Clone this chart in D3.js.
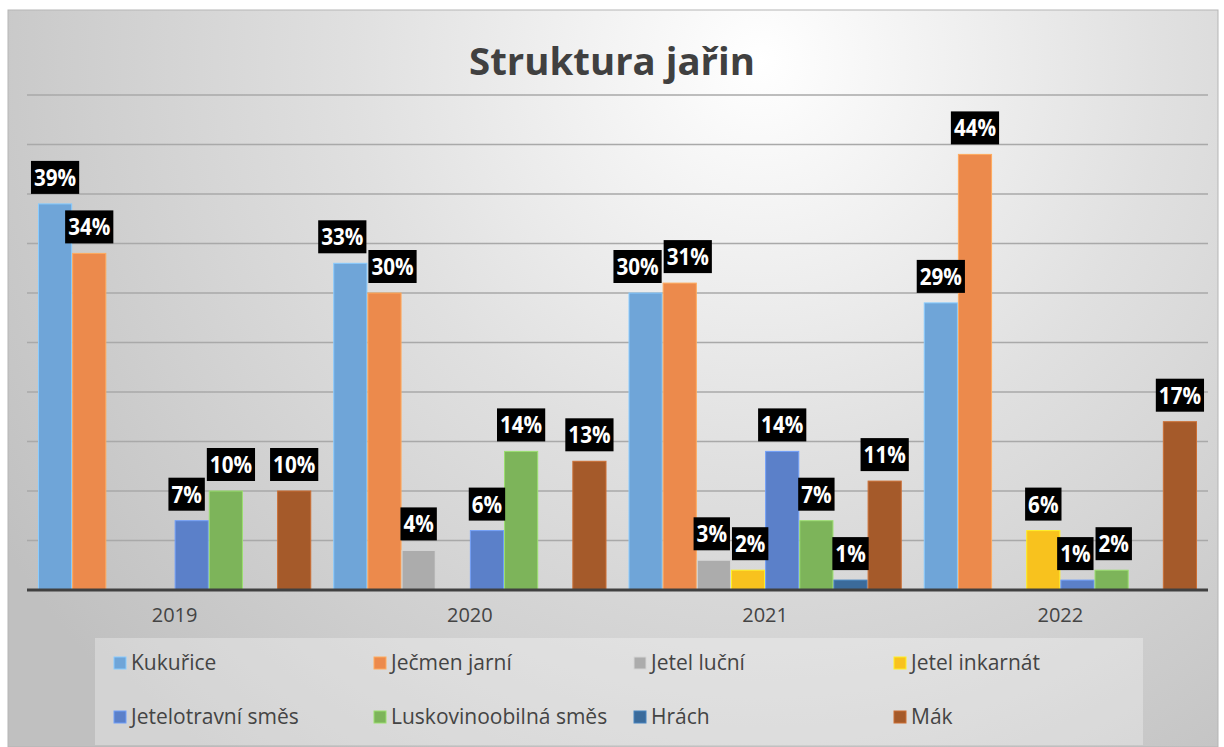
<!DOCTYPE html>
<html>
<head>
<meta charset="utf-8">
<script src="https://cdn.jsdelivr.net/npm/d3@7"></script>
<style>
  html, body { margin: 0; padding: 0; background: #fff; }
  svg { display: block; font-family: "Open Sans", sans-serif; }
</style>
</head>
<body>
<div id="chart"></div>
<script>
const years = ['2019', '2020', '2021', '2022'];
const seriesNames = ['Kukuřice', 'Ječmen jarní', 'Jetel luční', 'Jetel inkarnát',
  'Jetelotravní směs', 'Luskovinoobilná směs', 'Hrách', 'Mák'];
const kukurice = [39, 33, 30, 29];
const jecmen = [34, 30, 31, 44];
const jetelLucni = [null, 4, 3, null];
const jetelInkarnat = [null, null, 2, 6];
const jetelotravni = [7, 6, 14, 1];
const luskovinoobilna = [10, 14, 7, 2];
const hrach = [null, null, 1, null];
const mak = [10, 13, 11, 17];
const seriesValues = [kukurice, jecmen, jetelLucni, jetelInkarnat, jetelotravni, luskovinoobilna, hrach, mak];
const colors = ['#6fa5d8', '#ec8a4c', '#acacac', '#f8c21e', '#5b80c9', '#7db45a', '#3b6b9b', '#a55a2a'];
const yTicks = [0, 5, 10, 15, 20, 25, 30, 35, 40, 45, 50];

const W = 1224, H = 747;
const svg = d3.select('#chart').append('svg').attr('width', W).attr('height', H);

const defs = svg.append('defs');
const grad = defs.append('radialGradient').attr('id', 'bg')
  .attr('gradientUnits', 'userSpaceOnUse')
  .attr('cx', 760).attr('cy', 60).attr('r', 900);
grad.append('stop').attr('offset', '0%').attr('stop-color', '#ffffff');
grad.append('stop').attr('offset', '45%').attr('stop-color', '#e0e0e0');
grad.append('stop').attr('offset', '100%').attr('stop-color', '#c0c0c0');

// chart frame
svg.append('rect').attr('x', 8).attr('y', 10).attr('width', 1210).attr('height', 737)
  .attr('fill', 'url(#bg)').attr('stroke', '#b5b5b5').attr('stroke-width', 1);

svg.append('text').attr('x', 612).attr('y', 75).attr('text-anchor', 'middle')
  .attr('font-size', 38).attr('font-weight', 'bold').attr('fill', '#404040')
  .attr('textLength', 286).attr('lengthAdjust', 'spacingAndGlyphs')
  .text('Struktura jařin');

const plotLeft = 27, plotRight = 1208;
const y = d3.scaleLinear().domain([0, 50]).range([590, 95]);
const x0 = d3.scaleBand().domain(years).range([plotLeft, plotRight]).padding(0);
const inner = 11;
const x1 = d3.scaleBand().domain(d3.range(seriesNames.length))
  .range([inner, x0.bandwidth() - inner]).padding(0);

// gridlines
svg.append('g').selectAll('line').data(yTicks.slice(1)).enter().append('line')
  .attr('x1', plotLeft).attr('x2', plotRight)
  .attr('y1', d => y(d)).attr('y2', d => y(d))
  .attr('stroke', '#a9a9a9').attr('stroke-width', 1.6);

// bars
const groups = svg.append('g').selectAll('g').data(years).enter().append('g')
  .attr('transform', d => `translate(${x0(d)},0)`);

const cells = (yi) => seriesValues.map((vals, si) => ({ si, v: vals[yi] })).filter(d => d.v != null);
const boxH = 33, gap = 10;

groups.each(function(yr, yi) {
  const g = d3.select(this);
  const data = cells(yi);
  g.selectAll('rect.bar').data(data).enter().append('rect').attr('class', 'bar')
    .attr('x', d => x1(d.si) + 0.5).attr('width', x1.bandwidth() - 1)
    .attr('y', d => y(d.v)).attr('height', d => y(0) - y(d.v))
    .attr('fill', d => colors[d.si])
    .attr('stroke', d => d3.color(colors[d.si]).brighter(0.6)).attr('stroke-width', 1);

  const lab = g.selectAll('g.lab').data(data).enter().append('g').attr('class', 'lab');
  lab.append('text').attr('text-anchor', 'middle').attr('y', -8)
    .attr('font-size', 24).attr('font-weight', 'bold').attr('fill', '#fff')
    .text(d => d.v + '%')
    .each(function(d) {
      const w = this.getComputedTextLength() * 0.86;
      d3.select(this).attr('textLength', w).attr('lengthAdjust', 'spacingAndGlyphs');
      d.bw = w + 6;
      d.cx = x1(d.si) + x1.bandwidth() / 2;
      d.bottom = y(d.v) - gap;
    });

  // nudge labels apart where boxes collide
  for (let pass = 0; pass < 4; pass++) {
    for (let i = 0; i < data.length - 1; i++) {
      const a = data[i], b = data[i + 1];
      const vOverlap = Math.abs(a.bottom - b.bottom) < boxH;
      const over = (a.cx + a.bw / 2 + 2) - (b.cx - b.bw / 2);
      if (vOverlap && over > 0) { a.cx -= over / 2; b.cx += over / 2; }
    }
  }

  lab.attr('transform', d => `translate(${d.cx},${d.bottom})`);
  lab.insert('rect', 'text')
    .attr('x', d => -d.bw / 2).attr('y', -boxH).attr('width', d => d.bw).attr('height', boxH)
    .attr('fill', '#000');
});

// baseline + axis labels
svg.append('line').attr('x1', plotLeft).attr('x2', plotRight)
  .attr('y1', y(0)).attr('y2', y(0)).attr('stroke', '#404040').attr('stroke-width', 3);

const xAxis = svg.append('g').attr('transform', `translate(0,${y(0)})`)
  .call(d3.axisBottom(x0).tickSize(0).tickPadding(18));
xAxis.select('.domain').remove();
xAxis.selectAll('text').attr('font-size', 20).attr('fill', '#444')
  .attr('font-family', '"Open Sans", sans-serif');

// legend
svg.append('rect').attr('x', 95).attr('y', 638).attr('width', 1048).attr('height', 107)
  .attr('fill', '#ffffff').attr('fill-opacity', 0.3);

const leg = svg.append('g').selectAll('g').data(seriesNames).enter().append('g')
  .attr('transform', (d, i) => `translate(${114 + (i % 4) * 260},${663 + Math.floor(i / 4) * 54})`);
leg.append('rect').attr('x', 0).attr('y', -6).attr('width', 12).attr('height', 12)
  .attr('fill', (d, i) => colors[i]).attr('stroke', (d, i) => d3.color(colors[i]).brighter(0.6));
leg.append('text').attr('x', 17).attr('dy', '0.35em')
  .attr('font-size', 21).attr('fill', '#444').text(d => d);
</script>
</body>
</html>
